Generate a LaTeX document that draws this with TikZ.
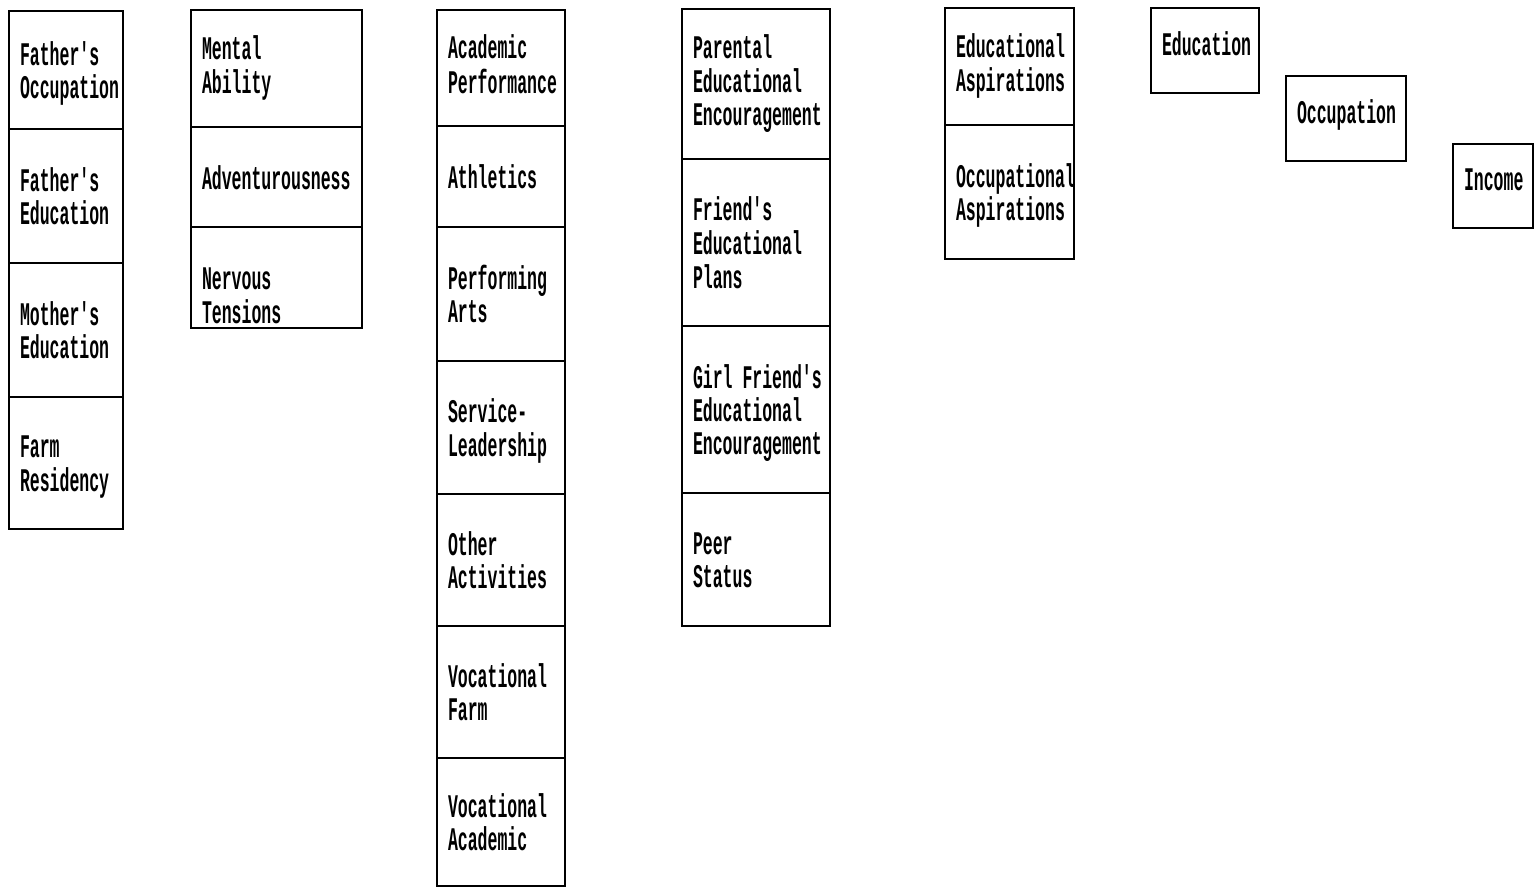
\documentclass[tikz,border=0pt]{standalone}
\usepackage{fontspec}
\setmonofont{Liberation Mono}
\usepackage{graphicx}
\usetikzlibrary{positioning}

% tall narrow typewriter lettering, as in the scan
\newcommand{\cardtext}[2][5pt]{\raisebox{-#1}[\height][\depth]{\scalebox{1}[2]{\ttfamily\bfseries\fontsize{16.5}{16.5}\selectfont\begin{tabular}{@{}l@{}}#2\end{tabular}}}}

\begin{document}
\begin{tikzpicture}[
    x=1pt, y=-1pt,
    cell/.style={rectangle, draw, line width=1.8pt, anchor=north west, outer sep=0pt,
                 inner xsep=11pt, inner ysep=0pt, align=left},
    colA/.style={cell, text width=92pt},
    colB/.style={cell, text width=149pt},
    colC/.style={cell, text width=106pt},
    colD/.style={cell, text width=126pt},
    colE/.style={cell, text width=107pt}
]
    \useasboundingbox (0,0) rectangle (1539,888);

    % background
    \node[colA, minimum height=118pt] (focc) at (9,11) {\cardtext{Father's\\Occupation}};
    \node[colA, minimum height=134pt, below=0pt of focc] (fedu) {\cardtext{Father's\\Education}};
    \node[colA, minimum height=134pt, below=0pt of fedu] (medu) {\cardtext{Mother's\\Education}};
    \node[colA, minimum height=132pt, below=0pt of medu] (farm) {\cardtext{Farm\\Residency}};

    % personal traits
    \node[colB, minimum height=117pt] (mental) at (191,10) {\cardtext[1pt]{Mental\\Ability}};
    \node[colB, minimum height=100pt, below=0pt of mental] (advent) {\cardtext{Adventurousness}};
    \node[colB, minimum height=101pt, below=0pt of advent] (nervous) {\cardtext[22pt]{Nervous\\Tensions}};

    % school
    \node[colC, minimum height=116pt] (acad) at (437,10) {\cardtext[1pt]{Academic\\Performance}};
    \node[colC, minimum height=101pt, below=0pt of acad] (athl) {\cardtext{Athletics}};
    \node[colC, minimum height=134pt, below=0pt of athl] (arts) {\cardtext{Performing\\Arts}};
    \node[colC, minimum height=133pt, below=0pt of arts] (service) {\cardtext{Service-\\Leadership}};
    \node[colC, minimum height=132pt, below=0pt of service] (other) {\cardtext{Other\\Activities}};
    \node[colC, minimum height=132pt, below=0pt of other] (vfarm) {\cardtext{Vocational\\Farm}};
    \node[colC, minimum height=128pt, below=0pt of vfarm] (vacad) {\cardtext{Vocational\\Academic}};

    % significant others
    \node[colD, minimum height=150pt] (parent) at (682,9) {\cardtext[1pt]{Parental\\Educational\\Encouragement}};
    \node[colD, minimum height=167pt, below=0pt of parent] (friend) {\cardtext{Friend's\\Educational\\Plans}};
    \node[colD, minimum height=167pt, below=0pt of friend] (girl) {\cardtext{Girl\hspace{0.6em}Friend's\\Educational\\Encouragement}};
    \node[colD, minimum height=133pt, below=0pt of girl] (peer) {\cardtext{Peer\\Status}};

    % aspirations
    \node[colE, minimum height=117pt] (eduasp) at (945,8) {\cardtext[1pt]{Educational\\Aspirations}};
    \node[colE, minimum height=134pt, below=0pt of eduasp] (occasp) {\cardtext{Occupational\\Aspirations}};

    % attainment
    \node[cell, text width=86pt, minimum height=85pt] (edu) at (1151,8) {\cardtext[-2pt]{Education}};
    \node[cell, text width=98pt, minimum height=85pt] (occ) at (1286,76) {\cardtext[-2pt]{Occupation}};
    \node[cell, text width=58pt, minimum height=84pt] (inc) at (1453,144) {\cardtext[-2pt]{Income}};
\end{tikzpicture}
\end{document}
